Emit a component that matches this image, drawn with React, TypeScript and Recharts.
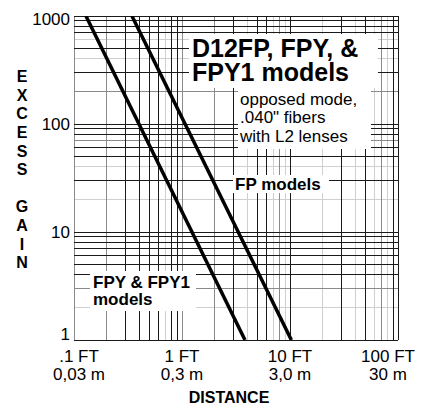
import React from 'react';
import { LineChart, Line, XAxis, YAxis, ReferenceLine, Customized } from 'recharts';

const FONT = '"Liberation Sans", Arial, Helvetica, sans-serif';

// Series (distance in feet, excess gain)
const fpyDistanceFt = [0.129, 3.83];
const fpyGain = [1000, 1];
const fpDistanceFt = [0.344, 10.3];
const fpGain = [1000, 1];

// Axis ticks
const xTicks = [0.1, 1, 10, 100];
const xTickFeet = ['.1 FT', '1 FT', '10 FT', '100 FT'];
const xTickMeters = ['0,03 m', '0,3 m', '3,0 m', '30 m'];
const yTicks = [1, 10, 100, 1000];
const yTickLabels = ['1', '10', '100', '1000'];

// Log grid lines (values), by shade
const xGridDark = [0.3, 0.4, 0.5, 0.6, 0.8, 0.9, 3, 5, 6, 10, 30, 50, 90, 100];
const xGridGray = [0.1, 0.2, 1, 2, 8, 70];
const xGridLight = [0.7, 4, 7, 9, 20, 40, 60, 80];
const yGridDark = [1000, 900, 800, 700, 500, 300, 100, 90, 80, 60, 50, 30, 10, 9, 8, 7, 6, 5, 4, 1];
const yGridGray = [200, 70, 3];
const yGridLight = [600, 400, 40, 20, 2];

const fpyData = fpyDistanceFt.map((d, i) => ({ x: d, y: fpyGain[i] }));
const fpData = fpDistanceFt.map((d, i) => ({ x: d, y: fpGain[i] }));

const DARK = '#1a1a1a';
const GRAY = '#8a8a8a';
const LIGHT = '#cfcfcf';

const XTick = (props: any) => {
  const { x, y, index } = props;
  const n = xTicks.length;
  const shift = index === 0 ? 5 : index === n - 1 ? -10 : 0;
  return (
    <g>
      <text x={x + shift} y={y + 22} textAnchor="middle" fontFamily={FONT} fontSize={17} fill="#000">
        {xTickFeet[index]}
      </text>
      <text x={x + shift} y={y + 40} textAnchor="middle" fontFamily={FONT} fontSize={17} fill="#000">
        {xTickMeters[index]}
      </text>
    </g>
  );
};

const YTick = (props: any) => {
  const { x, y, index } = props;
  const n = yTicks.length;
  const dy = index === 0 ? 0 : index === n - 1 ? 9 : 6;
  return (
    <text x={x} y={y + dy} textAnchor="end" fontFamily={FONT} fontSize={17} fill="#000">
      {yTickLabels[index]}
    </text>
  );
};

const AxisTitles = () => {
  const yLetters = 'EXCESS GAIN'.split('');
  return (
    <g>
      <text x={229} y={403} textAnchor="middle" fontFamily={FONT} fontWeight="bold" fontSize={16} fill="#000">
        DISTANCE
      </text>
      <text fontFamily={FONT} fontWeight="bold" fontSize={16} fill="#000" textAnchor="middle">
        {yLetters.map((c, i) => (
          <tspan key={i} x={22} y={82 + i * 18.63}>
            {c === ' ' ? '\u00a0' : c}
          </tspan>
        ))}
      </text>
    </g>
  );
};

const Annotations = () => (
  <svg
    width={426}
    height={406}
    style={{ position: 'absolute', left: 0, top: 0, pointerEvents: 'none' }}
  >
    {/* title box */}
    <rect x={189} y={34} width={189} height={54} fill="#fff" />
    <text fontFamily={FONT} fontWeight="bold" fontSize={25} fill="#000">
      <tspan x={192} y={57}>D12FP, FPY, &amp;</tspan>
      <tspan x={192} y={81}>FPY1 models</tspan>
    </text>
    {/* subtitle box */}
    <rect x={238} y={88} width={133} height={61} fill="#fff" />
    <text fontFamily={FONT} fontSize={17} fill="#000">
      <tspan x={240} y={105}>opposed mode,</tspan>
      <tspan x={240} y={123}>.040" fibers</tspan>
      <tspan x={240} y={142}>with L2 lenses</tspan>
    </text>
    {/* FP models */}
    <rect x={233} y={175} width={96} height={18} fill="#fff" />
    <text x={235} y={190} fontFamily={FONT} fontWeight="bold" fontSize={17} fill="#000">
      FP models
    </text>
    {/* FPY & FPY1 models */}
    <rect x={90} y={271} width={106} height={40} fill="#fff" />
    <text fontFamily={FONT} fontWeight="bold" fontSize={17} fill="#000">
      <tspan x={93} y={288}>FPY &amp; FPY1</tspan>
      <tspan x={93} y={305}>models</tspan>
    </text>
  </svg>
);

export default function App() {
  return (
    <div style={{ position: 'absolute', left: 0, top: 0, width: 426, height: 406, background: '#fff' }}>
      <LineChart width={426} height={406} margin={{ top: 16, right: 28, left: 0, bottom: 0 }}>
        <XAxis
          dataKey="x"
          type="number"
          scale="log"
          domain={[0.1, 100]}
          ticks={xTicks}
          allowDataOverflow
          height={66}
          tickSize={0}
          tickMargin={0}
          axisLine={false}
          tickLine={false}
          tick={<XTick />}
          interval={0}
        />
        <YAxis
          dataKey="y"
          type="number"
          scale="log"
          domain={[1, 1000]}
          ticks={yTicks}
          allowDataOverflow
          width={74}
          tickSize={0}
          tickMargin={4}
          axisLine={false}
          tickLine={false}
          tick={<YTick />}
          interval={0}
        />
        {xGridLight.map((v) => (
          <ReferenceLine key={'xl' + v} x={v} stroke={LIGHT} strokeWidth={1} shapeRendering="crispEdges" />
        ))}
        {yGridLight.map((v) => (
          <ReferenceLine key={'yl' + v} y={v} stroke={LIGHT} strokeWidth={1} shapeRendering="crispEdges" />
        ))}
        {xGridGray.map((v) => (
          <ReferenceLine key={'xg' + v} x={v} stroke={GRAY} strokeWidth={1} shapeRendering="crispEdges" />
        ))}
        {yGridGray.map((v) => (
          <ReferenceLine key={'yg' + v} y={v} stroke={GRAY} strokeWidth={1} shapeRendering="crispEdges" />
        ))}
        {xGridDark.map((v) => (
          <ReferenceLine key={'xd' + v} x={v} stroke={DARK} strokeWidth={1} shapeRendering="crispEdges" />
        ))}
        {yGridDark.map((v) => (
          <ReferenceLine key={'yd' + v} y={v} stroke={DARK} strokeWidth={1} shapeRendering="crispEdges" />
        ))}
        <Customized component={AxisTitles} />
        <Line data={fpyData} dataKey="y" stroke="#000" strokeWidth={3.5} dot={false} isAnimationActive={false} />
        <Line data={fpData} dataKey="y" stroke="#000" strokeWidth={3.5} dot={false} isAnimationActive={false} />
      </LineChart>
      <Annotations />
    </div>
  );
}
